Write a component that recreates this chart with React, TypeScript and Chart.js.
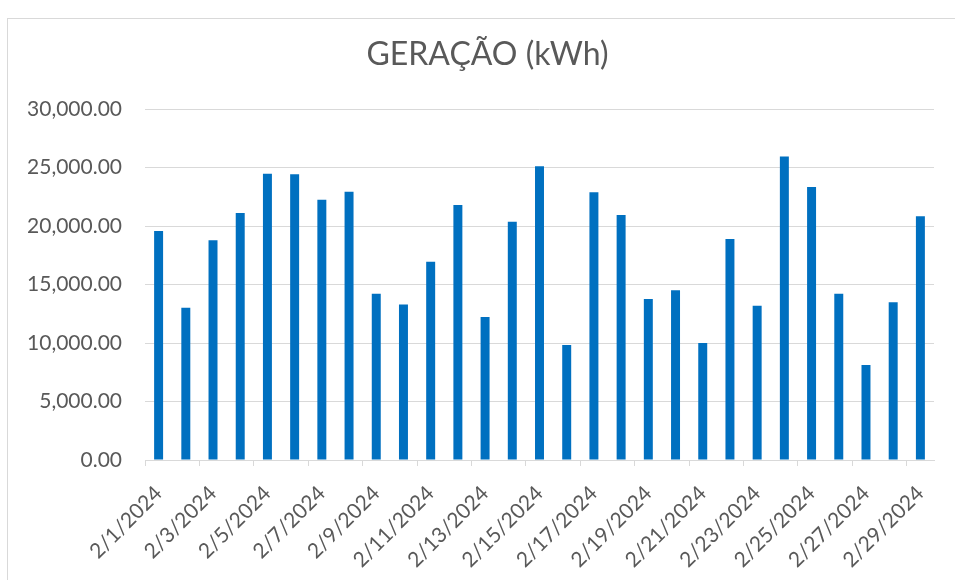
import React, { useEffect, useRef } from "react";
import { Chart, registerables } from "chart.js";

Chart.register(...registerables);

const categories: string[] = [
  "2/1/2024", "2/2/2024", "2/3/2024", "2/4/2024", "2/5/2024", "2/6/2024", "2/7/2024",
  "2/8/2024", "2/9/2024", "2/10/2024", "2/11/2024", "2/12/2024", "2/13/2024", "2/14/2024",
  "2/15/2024", "2/16/2024", "2/17/2024", "2/18/2024", "2/19/2024", "2/20/2024", "2/21/2024",
  "2/22/2024", "2/23/2024", "2/24/2024", "2/25/2024", "2/26/2024", "2/27/2024", "2/28/2024",
  "2/29/2024",
];

const geracao: number[] = [
  19570, 13010, 18780, 21110, 24470, 24420, 22250,
  22930, 14220, 13300, 16950, 21790, 12220, 20370,
  25100, 9830, 22880, 20940, 13760, 14500, 10000,
  18890, 13190, 25950, 23330, 14220, 8120, 13480,
  20830,
];

const yTicks: number[] = [0, 5000, 10000, 15000, 20000, 25000, 30000];

const titleText = "GERAÇÃO (kWh)";

const FONT = "Lato";
const TEXT = "#595959";
const GRID = "#d9d9d9";
const BAR = "#0070C0";

export default function App() {
  const ref = useRef<HTMLCanvasElement | null>(null);

  useEffect(() => {
    document.body.style.margin = "0";
    document.body.style.overflow = "hidden";
    if (!ref.current) return;
    const chart = new Chart(ref.current, {
      type: "bar",
      data: {
        labels: categories,
        datasets: [
          {
            label: titleText,
            data: geracao,
            backgroundColor: BAR,
            borderWidth: 0,
            categoryPercentage: 1,
            barPercentage: 0.33,
            yAxisID: "y",
          },
        ],
      },
      options: {
        responsive: false,
        animation: false,
        layout: { padding: { left: 20, right: 0, top: 0, bottom: 0 } },
        plugins: {
          legend: { display: false },
          tooltip: { enabled: false },
          title: {
            display: true,
            text: titleText,
            color: TEXT,
            font: { family: FONT, size: 32, weight: "normal" },
            padding: { top: 35, bottom: 35.6 },
          },
        },
        scales: {
          x: {
            type: "category",
            offset: true,
            afterFit: (scale: any) => {
              scale.height = 120;
            },
            grid: {
              offset: true,
              drawOnChartArea: false,
              drawTicks: true,
              tickLength: 6,
              color: (ctx: any) =>
                typeof ctx.index === "number" && ctx.index % 2 === 0 ? GRID : "rgba(0,0,0,0)",
            },
            border: { display: true, color: GRID, width: 1 },
            ticks: {
              autoSkip: false,
              minRotation: 45,
              maxRotation: 45,
              padding: 15,
              color: TEXT,
              font: { family: FONT, size: 21 },
              callback: (_v: any, i: number) => (i % 2 === 0 ? categories[i] : ""),
            },
          },
          y: {
            position: "left",
            min: yTicks[0],
            max: yTicks[yTicks.length - 1],
            afterFit: (scale: any) => {
              scale.width = 125;
            },
            afterBuildTicks: (scale: any) => {
              scale.ticks = yTicks.map((v) => ({ value: v }));
            },
            grid: { color: GRID, drawTicks: false, lineWidth: 1 },
            border: { display: false },
            ticks: {
              padding: 23,
              color: TEXT,
              font: { family: FONT, size: 21 },
              callback: (v: any) =>
                Number(v).toLocaleString("en-US", {
                  minimumFractionDigits: 2,
                  maximumFractionDigits: 2,
                }),
            },
          },
          y2: {
            position: "right",
            min: yTicks[0],
            max: yTicks[yTicks.length - 1],
            afterFit: (scale: any) => {
              scale.width = 21;
            },
            grid: { display: false, drawOnChartArea: false, drawTicks: false },
            border: { display: false },
            ticks: { display: false },
          },
        },
      },
    });
    return () => chart.destroy();
  }, []);

  return (
    <div style={{ position: "relative", width: 955, height: 580, overflow: "hidden", background: "#fff" }}>
      <div
        style={{
          position: "absolute",
          left: 7,
          top: 18,
          width: 980,
          height: 600,
          borderLeft: `1px solid ${GRID}`,
          borderTop: `1px solid ${GRID}`,
          boxSizing: "border-box",
        }}
      />
      <canvas ref={ref} width={955} height={580} style={{ position: "absolute", left: 0, top: 0 }} />
    </div>
  );
}
